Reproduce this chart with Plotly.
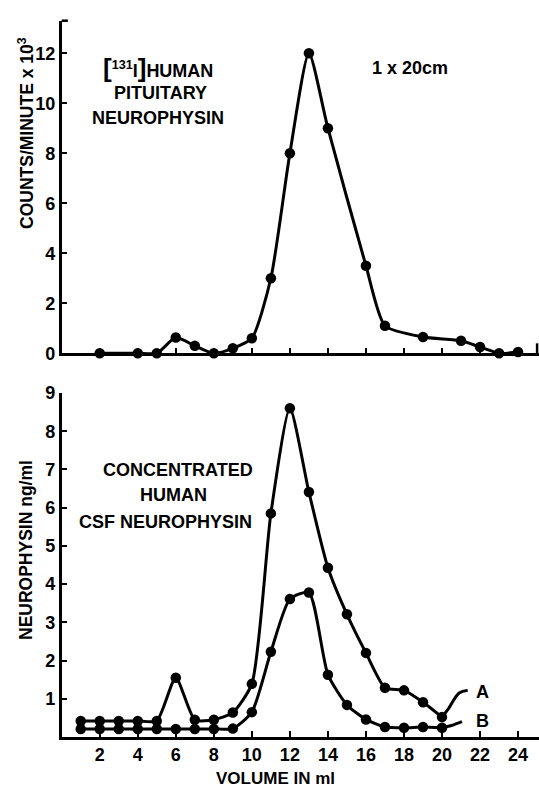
import plotly.graph_objects as go

# ---- data ----
top_x = [2, 4, 5, 6, 7, 8, 9, 10, 11, 12, 13, 14, 16, 17, 19, 21, 22, 23, 24]
top_y = [0, 0, 0, 0.63, 0.3, 0, 0.2, 0.6, 3.0, 8.0, 12.0, 9.0, 3.5, 1.1, 0.65, 0.5, 0.25, 0, 0.05]

vol = [1, 2, 3, 4, 5, 6, 7, 8, 9, 10, 11, 12, 13, 14, 15, 16, 17, 18, 19, 20]
csf_A = [0.42, 0.42, 0.42, 0.42, 0.42, 1.55, 0.45, 0.45, 0.64, 1.39, 5.85, 8.6, 6.41, 4.43, 3.21, 2.2, 1.29, 1.22, 0.91, 0.52]
csf_B = [0.21, 0.21, 0.21, 0.21, 0.21, 0.21, 0.21, 0.21, 0.22, 0.65, 2.23, 3.61, 3.78, 1.63, 0.84, 0.46, 0.26, 0.24, 0.26, 0.24]

leader_A_x = [20, 20.35, 20.9, 21.35]
leader_A_y = [0.52, 0.75, 1.15, 1.22]
leader_B_x = [20, 20.5, 21.05]
leader_B_y = [0.24, 0.3, 0.4]

x_ticks = [2, 4, 6, 8, 10, 12, 14, 16, 18, 20, 22, 24]
top_ticks = [0, 2, 4, 6, 8, 10, 12]
bot_ticks = [1, 2, 3, 4, 5, 6, 7, 8, 9]

W, H = 539, 788
FONT = "Liberation Sans"
FS = 18

fig = go.Figure()

line_style = dict(color="black", width=3, shape="spline", smoothing=0.6)
mk = dict(color="black", size=10.5)

fig.add_trace(go.Scatter(x=top_x, y=top_y, mode="lines+markers", line=line_style,
                         marker=mk, xaxis="x", yaxis="y", cliponaxis=False))
fig.add_trace(go.Scatter(x=vol, y=csf_A, mode="lines+markers", line=line_style,
                         marker=mk, xaxis="x2", yaxis="y2", cliponaxis=False))
fig.add_trace(go.Scatter(x=vol, y=csf_B, mode="lines+markers", line=line_style,
                         marker=mk, xaxis="x2", yaxis="y2", cliponaxis=False))
fig.add_trace(go.Scatter(x=leader_A_x, y=leader_A_y, mode="lines",
                         line=dict(color="black", width=3, shape="spline", smoothing=1.0),
                         xaxis="x2", yaxis="y2", cliponaxis=False))
fig.add_trace(go.Scatter(x=leader_B_x, y=leader_B_y, mode="lines",
                         line=dict(color="black", width=3, shape="spline", smoothing=1.0),
                         xaxis="x2", yaxis="y2", cliponaxis=False))

xdom = [61.7 / W, 1.0]
top_dom = [1 - 353.3 / H, 1 - 20.7 / H]
bot_dom = [1 - 737 / H, 1 - 393 / H]

axis_common = dict(showgrid=False, zeroline=False, showline=True, linecolor="black",
                   linewidth=2.5, ticks="inside", tickcolor="black", tickwidth=2,
                   ticklen=6, automargin=False,
                   tickfont=dict(family=FONT, size=FS, color="black", weight="bold"))

fig.update_layout(
    width=W, height=H,
    margin=dict(l=0, r=0, t=0, b=0),
    paper_bgcolor="white", plot_bgcolor="white",
    showlegend=False,
    xaxis=dict(domain=xdom, range=[0, 25.1], anchor="y", tickvals=x_ticks,
               showticklabels=False, **axis_common),
    yaxis=dict(domain=top_dom, range=[0, 13.3], anchor="x", tickvals=top_ticks, **axis_common),
    xaxis2=dict(domain=xdom, range=[0, 25.1], anchor="y2", tickvals=x_ticks, **axis_common),
    yaxis2=dict(domain=bot_dom, range=[0, 9], anchor="x2", tickvals=bot_ticks, **axis_common),
)

# end ticks of the top panel axes
fig.add_shape(type="line", xref="x domain", yref="y domain", x0=0, x1=0.013, y0=1, y1=1,
              line=dict(color="black", width=2.5))
fig.add_shape(type="line", xref="x domain", yref="y domain", x0=0.996, x1=0.996, y0=0, y1=0.03,
              line=dict(color="black", width=2.5))

def ann(text, px, py, size=FS, angle=0, xanchor="center"):
    fig.add_annotation(text=text, x=px / W, y=1 - py / H, xref="paper", yref="paper",
                       showarrow=False, textangle=angle, xanchor=xanchor, yanchor="middle",
                       font=dict(family=FONT, size=size, color="black", weight="bold"))

ann("COUNTS/MINUTE x 10<sup>3</sup>", 26, 133, size=17.5, angle=-90)
ann("NEUROPHYSIN ng/ml", 26, 550, size=17.5, angle=-90)
ann("VOLUME IN ml", 275, 778, size=17)

ann("<span style='font-size:26px'>[</span><sup>131</sup>I<span style='font-size:26px'>]</span>HUMAN", 158, 68)
ann("PITUITARY", 160, 93)
ann("NEUROPHYSIN", 158, 118)
ann("1 x 20cm", 410, 68)

ann("CONCENTRATED", 178, 470)
ann("HUMAN", 173, 495)
ann("CSF NEUROPHYSIN", 165, 522)

ann("A", 482, 692)
ann("B", 482, 721)

fig.write_html("out.html")
